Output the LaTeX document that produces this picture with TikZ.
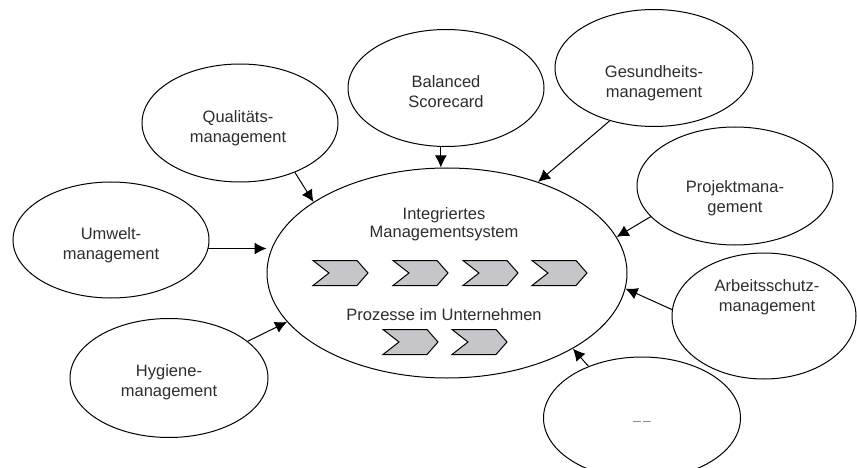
\documentclass[tikz,border=0pt]{standalone}
\usepackage{fontspec}
\setmainfont{Liberation Sans}
\usetikzlibrary{arrows.meta,shapes.geometric}
\definecolor{chevgray}{RGB}{198,198,202}
\definecolor{inkgray}{RGB}{45,45,45}
\tikzset{
  lbl/.style={font=\fontsize{16.5}{20}\selectfont, text=inkgray, align=center, inner sep=0pt},
  bubble/.style={draw, ellipse, line width=1pt, inner sep=0pt,
    minimum width=196pt, minimum height=118pt},
  arr/.style={line width=1pt, -{Latex[length=12pt,width=12pt]}},
  chevron/.pic={
    \draw[line width=1pt, fill=chevgray, line join=miter]
      (0,-12.5) -- (44,-12.5) -- (55,0) -- (44,12.5) -- (0,12.5) -- (16,0) -- cycle;
  }
}
\begin{document}
\begin{tikzpicture}[x=1pt,y=-1pt]
\useasboundingbox (0,0) rectangle (857,468);

% central system
\node[bubble, minimum width=360pt, minimum height=210pt] (cen) at (447,273) {};
\node[lbl, font=\fontsize{16.5}{18.5}\selectfont] (cenT) at (444,224) {Integriertes\\Managementsystem};
\node[lbl] (proc) at (444,315) {Prozesse im Unternehmen};

% process chevrons
\pic at (313,273) {chevron};
\pic at (393,273) {chevron};
\pic at (463,273) {chevron};
\pic at (532,273) {chevron};
\pic at (383,342) {chevron};
\pic at (452,342) {chevron};

% surrounding management systems
\node[bubble] (qual) at (240,123) {};
\node[lbl] (qualT) at (238,128) {Qualitäts-\\management};

\node[bubble, minimum height=116pt] (umw) at (111,240) {};
\node[lbl] (umwT) at (111,245) {Umwelt-\\management};

\node[bubble, minimum height=117pt] (bal) at (446,88) {};
\node[lbl] (balT) at (446,92) {Balanced\\Scorecard};

\node[bubble, minimum width=198pt, minimum height=117pt] (ges) at (654,68) {};
\node[lbl] (gesT) at (654,83) {Gesundheits-\\management};

\node[bubble] (proj) at (735,186) {};
\node[lbl] (projT) at (735,198) {Projektmana-\\gement};

\node[bubble, minimum width=184pt, minimum height=126pt] (arb) at (764,316) {};
\node[lbl] (arbT) at (767,297) {Arbeitsschutz-\\management};

\node[bubble, minimum width=197pt, minimum height=122pt] (dots) at (642,418) {};
\node[lbl, text=gray, font=\fontsize{14}{16}\selectfont] (dotsT) at (642,423) {\textendash\,\textendash};

\node[bubble, minimum width=198pt, minimum height=119pt] (hyg) at (169,378) {};
\node[lbl] (hygT) at (169,382) {Hygiene-\\management};

% connectors into the central system
\draw[arr] (qual.-42) -- (cen.152);
\draw[arr] (umw.-5) -- (umw.-5 -| cen.west);
\draw[arr] (hyg.25) -- (cen.-163);
\draw[arr] (bal.265) -- (bal.265 |- cen.north);
\draw[arr] (ges.230) -- (cen.45);
\draw[arr] (proj.200) -- (cen.12);
\draw[arr] (arb.176) -- (cen.-5);
\draw[arr] (dots.136) -- (cen.-31);
\end{tikzpicture}
\end{document}
